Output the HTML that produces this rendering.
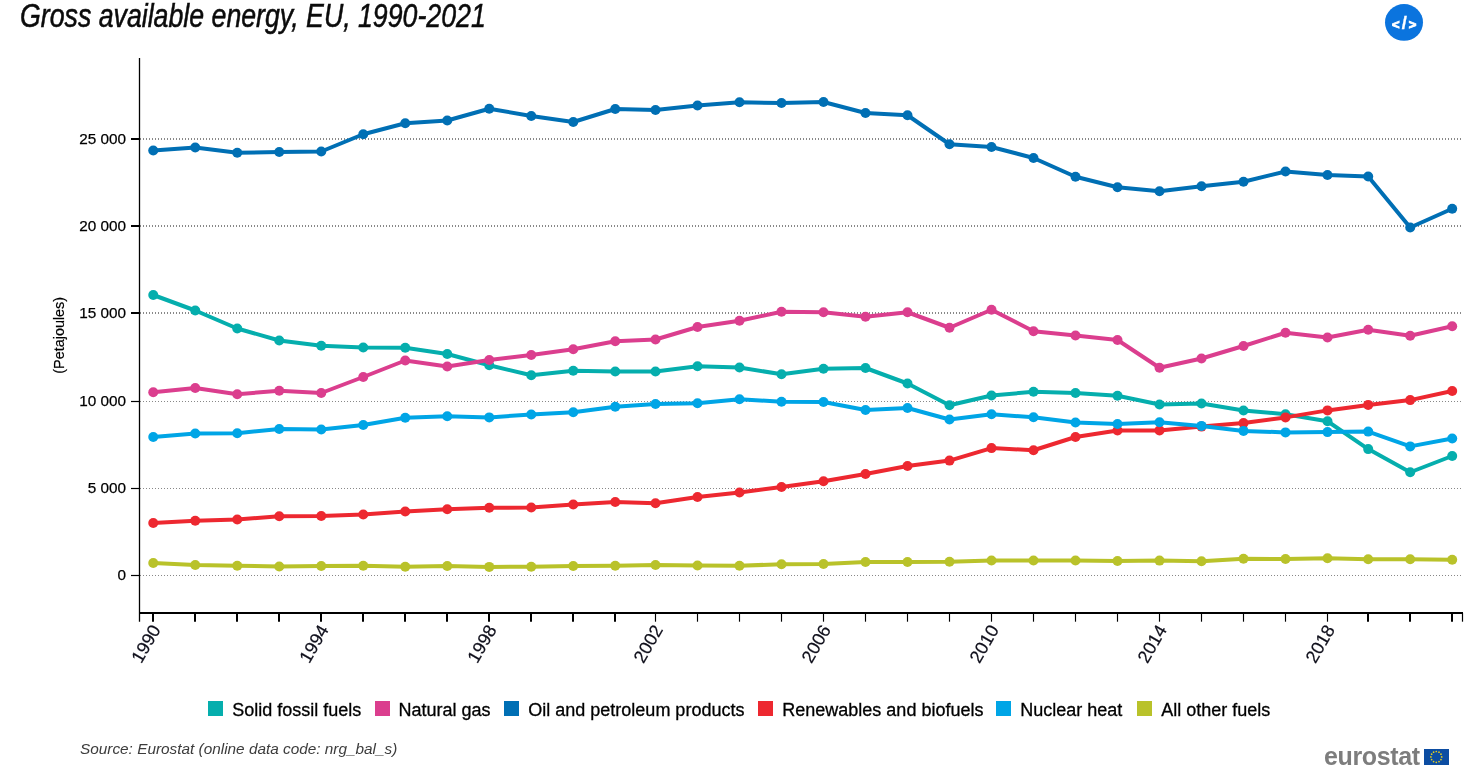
<!DOCTYPE html>
<html lang="en"><head><meta charset="utf-8"><title>Gross available energy, EU, 1990-2021</title>
<style>
html,body{margin:0;padding:0;background:#fff;}
body{width:1476px;height:769px;overflow:hidden;position:relative;font-family:"Liberation Sans",sans-serif;}
svg{position:absolute;left:0;top:0;}
.ax{font:15.3px "Liberation Sans",sans-serif;fill:#000;stroke:#000;stroke-width:0.25px;}
.xl{font:18px "Liberation Sans",sans-serif;fill:#10101c;stroke:#10101c;stroke-width:0.2px;}
.yt{font:14.4px "Liberation Sans",sans-serif;fill:#000;stroke:#000;stroke-width:0.2px;}
.bt{font-family:"Liberation Sans",sans-serif;font-weight:bold;fill:#fff;stroke:#fff;text-anchor:middle;}
.lg{font:18px "Liberation Sans",sans-serif;fill:#000;stroke:#000;stroke-width:0.3px;}
.title{position:absolute;left:20px;top:-4px;font:italic 33.4px/40px "Liberation Sans",sans-serif;color:#0b0b0b;white-space:nowrap;transform-origin:0 0;transform:scaleX(0.8);-webkit-text-stroke:0.55px #0b0b0b;}
.src{position:absolute;left:80px;top:739px;font:italic 15.5px/20px "Liberation Sans",sans-serif;color:#3c3c3c;white-space:nowrap;transform-origin:0 0;transform:scaleX(0.99);}
.logo{position:absolute;left:1324px;top:742px;font:bold 25px/28px "Liberation Sans",sans-serif;color:#7d7d7d;letter-spacing:-0.35px;white-space:nowrap;}
</style></head><body>
<svg width="1476" height="769" viewBox="0 0 1476 769">
<line x1="140" x2="1462" y1="139.0" y2="139.0" stroke="#888" stroke-width="2" stroke-dasharray="1 2"/>
<line x1="131" x2="139.5" y1="139.0" y2="139.0" stroke="#000" stroke-width="2"/>
<line x1="140" x2="1462" y1="226.0" y2="226.0" stroke="#888" stroke-width="2" stroke-dasharray="1 2"/>
<line x1="131" x2="139.5" y1="226.0" y2="226.0" stroke="#000" stroke-width="2"/>
<line x1="140" x2="1462" y1="313.0" y2="313.0" stroke="#888" stroke-width="2" stroke-dasharray="1 2"/>
<line x1="131" x2="139.5" y1="313.0" y2="313.0" stroke="#000" stroke-width="2"/>
<line x1="140" x2="1462" y1="401.5" y2="401.5" stroke="#888" stroke-width="1" stroke-dasharray="1 2"/>
<line x1="131" x2="139.5" y1="401.5" y2="401.5" stroke="#000" stroke-width="1.2"/>
<line x1="140" x2="1462" y1="488.5" y2="488.5" stroke="#888" stroke-width="1" stroke-dasharray="1 2"/>
<line x1="131" x2="139.5" y1="488.5" y2="488.5" stroke="#000" stroke-width="1.2"/>
<line x1="140" x2="1462" y1="575.5" y2="575.5" stroke="#888" stroke-width="1" stroke-dasharray="1 2"/>
<line x1="131" x2="139.5" y1="575.5" y2="575.5" stroke="#000" stroke-width="1.2"/>
<line x1="139.5" x2="139.5" y1="58" y2="621.7" stroke="#000" stroke-width="1.3"/>
<line x1="139" x2="1463" y1="613" y2="613" stroke="#000" stroke-width="2"/>
<line x1="1462.5" x2="1462.5" y1="613" y2="621.7" stroke="#000" stroke-width="1.2"/>
<line x1="153" x2="153" y1="613" y2="621.7" stroke="#000" stroke-width="2"/>
<line x1="195" x2="195" y1="613" y2="621.7" stroke="#000" stroke-width="2"/>
<line x1="237" x2="237" y1="613" y2="621.7" stroke="#000" stroke-width="2"/>
<line x1="279" x2="279" y1="613" y2="621.7" stroke="#000" stroke-width="2"/>
<line x1="321" x2="321" y1="613" y2="621.7" stroke="#000" stroke-width="2"/>
<line x1="363" x2="363" y1="613" y2="621.7" stroke="#000" stroke-width="2"/>
<line x1="405" x2="405" y1="613" y2="621.7" stroke="#000" stroke-width="2"/>
<line x1="447" x2="447" y1="613" y2="621.7" stroke="#000" stroke-width="2"/>
<line x1="489" x2="489" y1="613" y2="621.7" stroke="#000" stroke-width="2"/>
<line x1="531" x2="531" y1="613" y2="621.7" stroke="#000" stroke-width="2"/>
<line x1="573" x2="573" y1="613" y2="621.7" stroke="#000" stroke-width="2"/>
<line x1="615" x2="615" y1="613" y2="621.7" stroke="#000" stroke-width="2"/>
<line x1="655.5" x2="655.5" y1="613" y2="621.7" stroke="#000" stroke-width="1.15"/>
<line x1="697.5" x2="697.5" y1="613" y2="621.7" stroke="#000" stroke-width="1.15"/>
<line x1="739.5" x2="739.5" y1="613" y2="621.7" stroke="#000" stroke-width="1.15"/>
<line x1="781.5" x2="781.5" y1="613" y2="621.7" stroke="#000" stroke-width="1.15"/>
<line x1="823.5" x2="823.5" y1="613" y2="621.7" stroke="#000" stroke-width="1.15"/>
<line x1="865.5" x2="865.5" y1="613" y2="621.7" stroke="#000" stroke-width="1.15"/>
<line x1="907.5" x2="907.5" y1="613" y2="621.7" stroke="#000" stroke-width="1.15"/>
<line x1="949.5" x2="949.5" y1="613" y2="621.7" stroke="#000" stroke-width="1.15"/>
<line x1="991.5" x2="991.5" y1="613" y2="621.7" stroke="#000" stroke-width="1.15"/>
<line x1="1033.5" x2="1033.5" y1="613" y2="621.7" stroke="#000" stroke-width="1.15"/>
<line x1="1075.5" x2="1075.5" y1="613" y2="621.7" stroke="#000" stroke-width="1.15"/>
<line x1="1117.5" x2="1117.5" y1="613" y2="621.7" stroke="#000" stroke-width="1.15"/>
<line x1="1159.5" x2="1159.5" y1="613" y2="621.7" stroke="#000" stroke-width="1.15"/>
<line x1="1201.5" x2="1201.5" y1="613" y2="621.7" stroke="#000" stroke-width="1.15"/>
<line x1="1243.5" x2="1243.5" y1="613" y2="621.7" stroke="#000" stroke-width="1.15"/>
<line x1="1285.5" x2="1285.5" y1="613" y2="621.7" stroke="#000" stroke-width="1.15"/>
<line x1="1327.5" x2="1327.5" y1="613" y2="621.7" stroke="#000" stroke-width="1.15"/>
<line x1="1368" x2="1368" y1="613" y2="621.7" stroke="#000" stroke-width="2"/>
<line x1="1410" x2="1410" y1="613" y2="621.7" stroke="#000" stroke-width="2"/>
<line x1="1452" x2="1452" y1="613" y2="621.7" stroke="#000" stroke-width="2"/>
<polyline points="153.25,295.0 195.25,310.5 237.25,328.5 279.25,340.5 321.25,345.75 363.25,347.5 405.25,347.75 447.25,354.0 489.25,365.25 531.25,375.25 573.25,370.75 615.25,371.5 655.5,371.5 697.5,366.25 739.5,367.5 781.5,374.25 823.5,368.75 865.5,368.0 907.5,383.5 949.5,405.25 991.5,395.5 1033.5,391.75 1075.5,393.0 1117.5,395.75 1159.5,404.5 1201.5,403.5 1243.5,410.5 1285.5,414.25 1327.5,421.25 1368.2,449.1 1410.2,472.25 1452.2,456.0" fill="none" stroke="#05aead" stroke-width="4" stroke-linejoin="round" stroke-linecap="round"/>
<g fill="#05aead"><circle cx="153.25" cy="295.0" r="5"/><circle cx="195.25" cy="310.5" r="5"/><circle cx="237.25" cy="328.5" r="5"/><circle cx="279.25" cy="340.5" r="5"/><circle cx="321.25" cy="345.75" r="5"/><circle cx="363.25" cy="347.5" r="5"/><circle cx="405.25" cy="347.75" r="5"/><circle cx="447.25" cy="354.0" r="5"/><circle cx="489.25" cy="365.25" r="5"/><circle cx="531.25" cy="375.25" r="5"/><circle cx="573.25" cy="370.75" r="5"/><circle cx="615.25" cy="371.5" r="5"/><circle cx="655.5" cy="371.5" r="5"/><circle cx="697.5" cy="366.25" r="5"/><circle cx="739.5" cy="367.5" r="5"/><circle cx="781.5" cy="374.25" r="5"/><circle cx="823.5" cy="368.75" r="5"/><circle cx="865.5" cy="368.0" r="5"/><circle cx="907.5" cy="383.5" r="5"/><circle cx="949.5" cy="405.25" r="5"/><circle cx="991.5" cy="395.5" r="5"/><circle cx="1033.5" cy="391.75" r="5"/><circle cx="1075.5" cy="393.0" r="5"/><circle cx="1117.5" cy="395.75" r="5"/><circle cx="1159.5" cy="404.5" r="5"/><circle cx="1201.5" cy="403.5" r="5"/><circle cx="1243.5" cy="410.5" r="5"/><circle cx="1285.5" cy="414.25" r="5"/><circle cx="1327.5" cy="421.25" r="5"/><circle cx="1368.2" cy="449.1" r="5"/><circle cx="1410.2" cy="472.25" r="5"/><circle cx="1452.2" cy="456.0" r="5"/></g>
<polyline points="153.25,392.25 195.25,388.0 237.25,394.25 279.25,390.75 321.25,393.0 363.25,377.0 405.25,360.5 447.25,366.5 489.25,360.0 531.25,355.0 573.25,349.25 615.25,341.25 655.5,339.5 697.5,327.0 739.5,320.75 781.5,311.75 823.5,312.25 865.5,316.75 907.5,312.25 949.5,327.75 991.5,309.75 1033.5,331.25 1075.5,335.5 1117.5,340.0 1159.5,367.75 1201.5,358.5 1243.5,346.0 1285.5,332.75 1327.5,337.5 1368.2,329.75 1410.2,335.75 1452.2,326.25" fill="none" stroke="#db3e8e" stroke-width="4" stroke-linejoin="round" stroke-linecap="round"/>
<g fill="#db3e8e"><circle cx="153.25" cy="392.25" r="5"/><circle cx="195.25" cy="388.0" r="5"/><circle cx="237.25" cy="394.25" r="5"/><circle cx="279.25" cy="390.75" r="5"/><circle cx="321.25" cy="393.0" r="5"/><circle cx="363.25" cy="377.0" r="5"/><circle cx="405.25" cy="360.5" r="5"/><circle cx="447.25" cy="366.5" r="5"/><circle cx="489.25" cy="360.0" r="5"/><circle cx="531.25" cy="355.0" r="5"/><circle cx="573.25" cy="349.25" r="5"/><circle cx="615.25" cy="341.25" r="5"/><circle cx="655.5" cy="339.5" r="5"/><circle cx="697.5" cy="327.0" r="5"/><circle cx="739.5" cy="320.75" r="5"/><circle cx="781.5" cy="311.75" r="5"/><circle cx="823.5" cy="312.25" r="5"/><circle cx="865.5" cy="316.75" r="5"/><circle cx="907.5" cy="312.25" r="5"/><circle cx="949.5" cy="327.75" r="5"/><circle cx="991.5" cy="309.75" r="5"/><circle cx="1033.5" cy="331.25" r="5"/><circle cx="1075.5" cy="335.5" r="5"/><circle cx="1117.5" cy="340.0" r="5"/><circle cx="1159.5" cy="367.75" r="5"/><circle cx="1201.5" cy="358.5" r="5"/><circle cx="1243.5" cy="346.0" r="5"/><circle cx="1285.5" cy="332.75" r="5"/><circle cx="1327.5" cy="337.5" r="5"/><circle cx="1368.2" cy="329.75" r="5"/><circle cx="1410.2" cy="335.75" r="5"/><circle cx="1452.2" cy="326.25" r="5"/></g>
<polyline points="153.25,150.5 195.25,147.5 237.25,152.75 279.25,152.0 321.25,151.5 363.25,134.25 405.25,123.25 447.25,120.5 489.25,108.75 531.25,116.0 573.25,122.0 615.25,109.0 655.5,110.0 697.5,105.5 739.5,102.25 781.5,103.0 823.5,102.0 865.5,113.0 907.5,115.25 949.5,144.25 991.5,147.0 1033.5,158.0 1075.5,176.75 1117.5,187.25 1159.5,191.25 1201.5,186.25 1243.5,181.75 1285.5,171.5 1327.5,175.0 1368.2,176.5 1410.2,227.5 1452.2,208.75" fill="none" stroke="#006fb4" stroke-width="4" stroke-linejoin="round" stroke-linecap="round"/>
<g fill="#006fb4"><circle cx="153.25" cy="150.5" r="5"/><circle cx="195.25" cy="147.5" r="5"/><circle cx="237.25" cy="152.75" r="5"/><circle cx="279.25" cy="152.0" r="5"/><circle cx="321.25" cy="151.5" r="5"/><circle cx="363.25" cy="134.25" r="5"/><circle cx="405.25" cy="123.25" r="5"/><circle cx="447.25" cy="120.5" r="5"/><circle cx="489.25" cy="108.75" r="5"/><circle cx="531.25" cy="116.0" r="5"/><circle cx="573.25" cy="122.0" r="5"/><circle cx="615.25" cy="109.0" r="5"/><circle cx="655.5" cy="110.0" r="5"/><circle cx="697.5" cy="105.5" r="5"/><circle cx="739.5" cy="102.25" r="5"/><circle cx="781.5" cy="103.0" r="5"/><circle cx="823.5" cy="102.0" r="5"/><circle cx="865.5" cy="113.0" r="5"/><circle cx="907.5" cy="115.25" r="5"/><circle cx="949.5" cy="144.25" r="5"/><circle cx="991.5" cy="147.0" r="5"/><circle cx="1033.5" cy="158.0" r="5"/><circle cx="1075.5" cy="176.75" r="5"/><circle cx="1117.5" cy="187.25" r="5"/><circle cx="1159.5" cy="191.25" r="5"/><circle cx="1201.5" cy="186.25" r="5"/><circle cx="1243.5" cy="181.75" r="5"/><circle cx="1285.5" cy="171.5" r="5"/><circle cx="1327.5" cy="175.0" r="5"/><circle cx="1368.2" cy="176.5" r="5"/><circle cx="1410.2" cy="227.5" r="5"/><circle cx="1452.2" cy="208.75" r="5"/></g>
<polyline points="153.25,523.0 195.25,520.75 237.25,519.5 279.25,516.25 321.25,516.0 363.25,514.5 405.25,511.5 447.25,509.25 489.25,507.75 531.25,507.5 573.25,504.5 615.25,502.0 655.5,503.25 697.5,497.0 739.5,492.5 781.5,487.0 823.5,481.25 865.5,474.0 907.5,466.0 949.5,460.6 991.5,448.1 1033.5,450.25 1075.5,437.0 1117.5,430.5 1159.5,430.4 1201.5,426.6 1243.5,423.1 1285.5,417.4 1327.5,410.4 1368.2,404.9 1410.2,400.1 1452.2,391.0" fill="none" stroke="#ed2830" stroke-width="4" stroke-linejoin="round" stroke-linecap="round"/>
<g fill="#ed2830"><circle cx="153.25" cy="523.0" r="5"/><circle cx="195.25" cy="520.75" r="5"/><circle cx="237.25" cy="519.5" r="5"/><circle cx="279.25" cy="516.25" r="5"/><circle cx="321.25" cy="516.0" r="5"/><circle cx="363.25" cy="514.5" r="5"/><circle cx="405.25" cy="511.5" r="5"/><circle cx="447.25" cy="509.25" r="5"/><circle cx="489.25" cy="507.75" r="5"/><circle cx="531.25" cy="507.5" r="5"/><circle cx="573.25" cy="504.5" r="5"/><circle cx="615.25" cy="502.0" r="5"/><circle cx="655.5" cy="503.25" r="5"/><circle cx="697.5" cy="497.0" r="5"/><circle cx="739.5" cy="492.5" r="5"/><circle cx="781.5" cy="487.0" r="5"/><circle cx="823.5" cy="481.25" r="5"/><circle cx="865.5" cy="474.0" r="5"/><circle cx="907.5" cy="466.0" r="5"/><circle cx="949.5" cy="460.6" r="5"/><circle cx="991.5" cy="448.1" r="5"/><circle cx="1033.5" cy="450.25" r="5"/><circle cx="1075.5" cy="437.0" r="5"/><circle cx="1117.5" cy="430.5" r="5"/><circle cx="1159.5" cy="430.4" r="5"/><circle cx="1201.5" cy="426.6" r="5"/><circle cx="1243.5" cy="423.1" r="5"/><circle cx="1285.5" cy="417.4" r="5"/><circle cx="1327.5" cy="410.4" r="5"/><circle cx="1368.2" cy="404.9" r="5"/><circle cx="1410.2" cy="400.1" r="5"/><circle cx="1452.2" cy="391.0" r="5"/></g>
<polyline points="153.25,437.0 195.25,433.5 237.25,433.25 279.25,429.0 321.25,429.5 363.25,425.0 405.25,417.75 447.25,416.25 489.25,417.4 531.25,414.5 573.25,412.25 615.25,406.75 655.5,404.0 697.5,403.25 739.5,399.25 781.5,401.75 823.5,402.0 865.5,410.0 907.5,408.0 949.5,419.5 991.5,414.25 1033.5,417.25 1075.5,422.5 1117.5,424.0 1159.5,422.25 1201.5,425.9 1243.5,430.9 1285.5,432.4 1327.5,432.1 1368.2,431.6 1410.2,446.4 1452.2,438.5" fill="none" stroke="#00a5e6" stroke-width="4" stroke-linejoin="round" stroke-linecap="round"/>
<g fill="#00a5e6"><circle cx="153.25" cy="437.0" r="5"/><circle cx="195.25" cy="433.5" r="5"/><circle cx="237.25" cy="433.25" r="5"/><circle cx="279.25" cy="429.0" r="5"/><circle cx="321.25" cy="429.5" r="5"/><circle cx="363.25" cy="425.0" r="5"/><circle cx="405.25" cy="417.75" r="5"/><circle cx="447.25" cy="416.25" r="5"/><circle cx="489.25" cy="417.4" r="5"/><circle cx="531.25" cy="414.5" r="5"/><circle cx="573.25" cy="412.25" r="5"/><circle cx="615.25" cy="406.75" r="5"/><circle cx="655.5" cy="404.0" r="5"/><circle cx="697.5" cy="403.25" r="5"/><circle cx="739.5" cy="399.25" r="5"/><circle cx="781.5" cy="401.75" r="5"/><circle cx="823.5" cy="402.0" r="5"/><circle cx="865.5" cy="410.0" r="5"/><circle cx="907.5" cy="408.0" r="5"/><circle cx="949.5" cy="419.5" r="5"/><circle cx="991.5" cy="414.25" r="5"/><circle cx="1033.5" cy="417.25" r="5"/><circle cx="1075.5" cy="422.5" r="5"/><circle cx="1117.5" cy="424.0" r="5"/><circle cx="1159.5" cy="422.25" r="5"/><circle cx="1201.5" cy="425.9" r="5"/><circle cx="1243.5" cy="430.9" r="5"/><circle cx="1285.5" cy="432.4" r="5"/><circle cx="1327.5" cy="432.1" r="5"/><circle cx="1368.2" cy="431.6" r="5"/><circle cx="1410.2" cy="446.4" r="5"/><circle cx="1452.2" cy="438.5" r="5"/></g>
<polyline points="153.25,563.0 195.25,565.0 237.25,565.75 279.25,566.5 321.25,566.0 363.25,565.75 405.25,566.75 447.25,566.0 489.25,566.9 531.25,566.75 573.25,566.0 615.25,565.75 655.5,565.0 697.5,565.5 739.5,565.75 781.5,564.25 823.5,564.0 865.5,562.0 907.5,562.0 949.5,561.75 991.5,560.5 1033.5,560.5 1075.5,560.5 1117.5,561.0 1159.5,560.6 1201.5,561.25 1243.5,558.75 1285.5,559.0 1327.5,558.25 1368.2,559.25 1410.2,559.25 1452.2,559.75" fill="none" stroke="#b9c22a" stroke-width="4" stroke-linejoin="round" stroke-linecap="round"/>
<g fill="#b9c22a"><circle cx="153.25" cy="563.0" r="5"/><circle cx="195.25" cy="565.0" r="5"/><circle cx="237.25" cy="565.75" r="5"/><circle cx="279.25" cy="566.5" r="5"/><circle cx="321.25" cy="566.0" r="5"/><circle cx="363.25" cy="565.75" r="5"/><circle cx="405.25" cy="566.75" r="5"/><circle cx="447.25" cy="566.0" r="5"/><circle cx="489.25" cy="566.9" r="5"/><circle cx="531.25" cy="566.75" r="5"/><circle cx="573.25" cy="566.0" r="5"/><circle cx="615.25" cy="565.75" r="5"/><circle cx="655.5" cy="565.0" r="5"/><circle cx="697.5" cy="565.5" r="5"/><circle cx="739.5" cy="565.75" r="5"/><circle cx="781.5" cy="564.25" r="5"/><circle cx="823.5" cy="564.0" r="5"/><circle cx="865.5" cy="562.0" r="5"/><circle cx="907.5" cy="562.0" r="5"/><circle cx="949.5" cy="561.75" r="5"/><circle cx="991.5" cy="560.5" r="5"/><circle cx="1033.5" cy="560.5" r="5"/><circle cx="1075.5" cy="560.5" r="5"/><circle cx="1117.5" cy="561.0" r="5"/><circle cx="1159.5" cy="560.6" r="5"/><circle cx="1201.5" cy="561.25" r="5"/><circle cx="1243.5" cy="558.75" r="5"/><circle cx="1285.5" cy="559.0" r="5"/><circle cx="1327.5" cy="558.25" r="5"/><circle cx="1368.2" cy="559.25" r="5"/><circle cx="1410.2" cy="559.25" r="5"/><circle cx="1452.2" cy="559.75" r="5"/></g>
<text x="126" y="143.8" text-anchor="end" class="ax">25 000</text>
<text x="126" y="230.8" text-anchor="end" class="ax">20 000</text>
<text x="126" y="317.8" text-anchor="end" class="ax">15 000</text>
<text x="126" y="406.2" text-anchor="end" class="ax">10 000</text>
<text x="126" y="493.2" text-anchor="end" class="ax">5 000</text>
<text x="126" y="580.2" text-anchor="end" class="ax">0</text>
<text transform="translate(161.15,629.5) rotate(-60)" text-anchor="end" class="xl">1990</text>
<text transform="translate(329.15,629.5) rotate(-60)" text-anchor="end" class="xl">1994</text>
<text transform="translate(497.15,629.5) rotate(-60)" text-anchor="end" class="xl">1998</text>
<text transform="translate(663.40,629.5) rotate(-60)" text-anchor="end" class="xl">2002</text>
<text transform="translate(831.40,629.5) rotate(-60)" text-anchor="end" class="xl">2006</text>
<text transform="translate(999.40,629.5) rotate(-60)" text-anchor="end" class="xl">2010</text>
<text transform="translate(1167.40,629.5) rotate(-60)" text-anchor="end" class="xl">2014</text>
<text transform="translate(1335.40,629.5) rotate(-60)" text-anchor="end" class="xl">2018</text>
<text transform="translate(64,335.3) rotate(-90)" text-anchor="middle" class="yt">(Petajoules)</text>
<rect x="208" y="701" width="15" height="15" fill="#05aead"/>
<text x="232.3" y="715.5" class="lg">Solid fossil fuels</text>
<rect x="375" y="701" width="15" height="15" fill="#db3e8e"/>
<text x="398.5" y="715.5" class="lg">Natural gas</text>
<rect x="504" y="701" width="15" height="15" fill="#006fb4"/>
<text x="528.3" y="715.5" class="lg">Oil and petroleum products</text>
<rect x="758" y="701" width="15" height="15" fill="#ed2830"/>
<text x="782.3" y="715.5" class="lg">Renewables and biofuels</text>
<rect x="996" y="701" width="15" height="15" fill="#00a5e6"/>
<text x="1020.3" y="715.5" class="lg">Nuclear heat</text>
<rect x="1137" y="701" width="15" height="15" fill="#b9c22a"/>
<text x="1161.3" y="715.5" class="lg">All other fuels</text>
<ellipse cx="1404" cy="22.4" rx="19" ry="18.4" fill="#0b74de"/>
<text class="bt" y="29.2"><tspan x="1395.9" font-size="13" stroke-width="0.9">&lt;</tspan><tspan x="1404.3" font-size="18.5" stroke-width="0.3">/</tspan><tspan x="1412.5" font-size="13" stroke-width="0.9">&gt;</tspan></text>
<rect x="1424" y="749" width="25" height="16" fill="#0c4da2"/>
<circle cx="1436.30" cy="751.50" r="0.85" fill="#e6cf1e"/><circle cx="1439.00" cy="752.22" r="0.85" fill="#e6cf1e"/><circle cx="1440.98" cy="754.20" r="0.85" fill="#e6cf1e"/><circle cx="1441.70" cy="756.90" r="0.85" fill="#e6cf1e"/><circle cx="1440.98" cy="759.60" r="0.85" fill="#e6cf1e"/><circle cx="1439.00" cy="761.58" r="0.85" fill="#e6cf1e"/><circle cx="1436.30" cy="762.30" r="0.85" fill="#e6cf1e"/><circle cx="1433.60" cy="761.58" r="0.85" fill="#e6cf1e"/><circle cx="1431.62" cy="759.60" r="0.85" fill="#e6cf1e"/><circle cx="1430.90" cy="756.90" r="0.85" fill="#e6cf1e"/><circle cx="1431.62" cy="754.20" r="0.85" fill="#e6cf1e"/><circle cx="1433.60" cy="752.22" r="0.85" fill="#e6cf1e"/>
</svg>
<div class="title">Gross available energy, EU, 1990-2021</div>
<div class="src">Source: Eurostat (online data code: nrg_bal_s)</div>
<div class="logo">eurostat</div>
</body></html>
